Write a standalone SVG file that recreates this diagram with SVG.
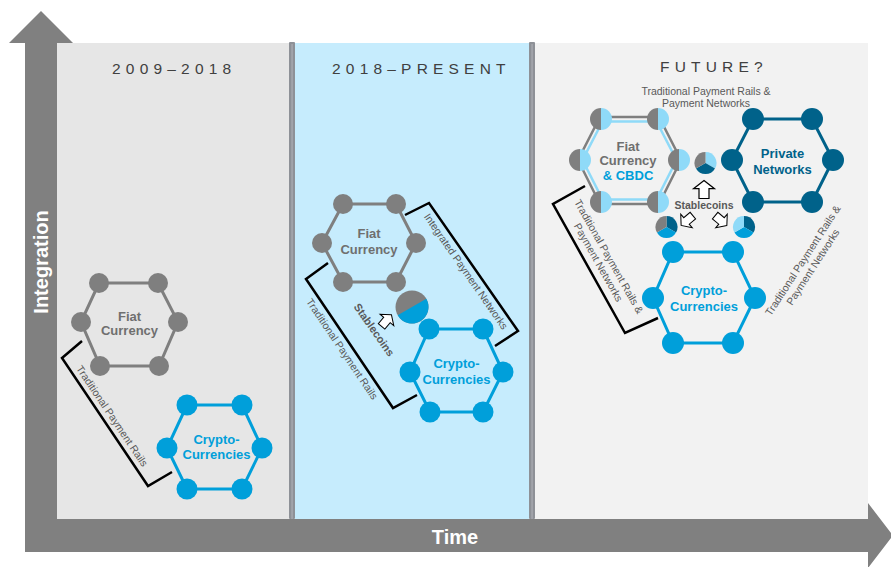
<svg xmlns="http://www.w3.org/2000/svg" width="891" height="567" viewBox="0 0 891 567">
<defs>
<style>
text{font-family:"Liberation Sans",Arial,sans-serif}
.title{font-size:15.5px;fill:#404040;letter-spacing:5.2px}
.axis{font-size:20px;font-weight:bold;fill:#fff}
.lbl{font-size:13px;font-weight:bold;text-anchor:middle}
.small{font-size:10.5px;fill:#595959;text-anchor:middle}
.stab{font-size:11px;font-weight:bold;fill:#595959;text-anchor:middle}
.hexg{fill:none;stroke:#7f7f7f;stroke-width:3}
.hexb{fill:none;stroke:#009fda;stroke-width:3}
.hext{fill:none;stroke:#00628a;stroke-width:3}
.ng{fill:#7f7f7f}.nb{fill:#009fda}.nt{fill:#00628a}.nl{fill:#8fdaf8}
.brk{fill:none;stroke:#000;stroke-width:2.5;stroke-linejoin:miter}
.arr{fill:#fff;stroke:#000;stroke-width:1.2;stroke-linejoin:miter}
</style>
<path id="barrow" d="M0,-9 L10.5,-0.8 L5,-0.8 L5,9 L-5,9 L-5,-0.8 L-10.5,-0.8 Z"/>
</defs>

<g id="panels">
<rect x="57" y="43" width="232" height="476" fill="#e6e6e6"/>
<rect x="295" y="43" width="234" height="476" fill="#c6ecfd"/>
<rect x="535" y="43" width="333" height="476" fill="#f2f2f2"/>
<rect x="289" y="42" width="6" height="477" rx="1" fill="#8e9197"/>
<rect x="291.3" y="44" width="1.5" height="475" fill="#a6a9ae"/>
<rect x="529" y="42" width="6" height="477" rx="1" fill="#8e9197"/>
<rect x="531.3" y="44" width="1.5" height="475" fill="#a6a9ae"/>
<text class="title" x="112" y="74">2009–2018</text>
<text class="title" x="332" y="74">2018–PRESENT</text>
<text class="title" x="660" y="72">FUTURE?</text>
</g>

<g id="axes">
<polygon points="9,43 41,11 73,43 57,43 57,519 868,519 868,503 893,535.5 868,568 868,552 25,552 25,43" fill="#808080"/>
<text class="axis" transform="translate(48,262) rotate(-90)" text-anchor="middle">Integration</text>
<text class="axis" x="455" y="544" text-anchor="middle">Time</text>
</g>

<g id="connectors">
<polyline class="brk" points="82,341 62,358 148,486 172,472"/>
<polyline class="brk" points="328,263 306,279 393,408 417,395"/>
<polyline class="brk" points="405,215 429,203 518,331 495,346"/>
<polyline class="brk" points="585,186 553,204 625,333 658,318"/>
<text class="small" transform="translate(109,418) rotate(56)">Traditional Payment Rails</text>
<text class="small" transform="translate(339,351) rotate(56)">Traditional Payment Rails</text>
<text class="small" transform="translate(463,273.5) rotate(55.2)">Integrated Payment Networks</text>
<text class="small" x="706" y="94.5">Traditional Payment Rails &amp;</text>
<text class="small" x="706" y="107">Payment Networks</text>
<text class="small" transform="translate(603.5,259.5) rotate(60.5)"><tspan x="0" y="-2.5">Traditional Payment Rails &amp;</tspan><tspan x="0" y="9.5">Payment Networks</tspan></text>
<text class="small" transform="translate(808,263.8) rotate(-57)"><tspan x="0" y="-2.5">Traditional Payment Rails &amp;</tspan><tspan x="0" y="9.5">Payment Networks</tspan></text>
</g>

<g id="fiat-2009">
<polygon class="hexg" points="99,283 158,283 178,322 159,366 100,366 81,322"/>
<g class="ng">
<circle cx="99" cy="283" r="10"/><circle cx="158" cy="283" r="10"/><circle cx="178" cy="322" r="10"/>
<circle cx="159" cy="366" r="10"/><circle cx="100" cy="366" r="10"/><circle cx="81" cy="322" r="10"/>
</g>
<text class="lbl" fill="#6f6f6f" x="129.5" y="321">Fiat</text>
<text class="lbl" fill="#6f6f6f" x="129.5" y="335">Currency</text>
</g>

<g id="crypto-2009">
<polygon class="hexb" points="187,405 242,405 262,448 242,489 187,489 167,448"/>
<g class="nb">
<circle cx="187" cy="405" r="10.5"/><circle cx="242" cy="405" r="10.5"/><circle cx="262" cy="448" r="10.5"/>
<circle cx="242" cy="489" r="10.5"/><circle cx="187" cy="489" r="10.5"/><circle cx="167" cy="448" r="10.5"/>
</g>
<text class="lbl" fill="#009fda" x="216.5" y="444">Crypto-</text>
<text class="lbl" fill="#009fda" x="216.5" y="459">Currencies</text>
</g>

<g id="fiat-2018">
<polygon class="hexg" points="343,204 396,204 416,243 396,282 343,282 322,243"/>
<g class="ng">
<circle cx="343" cy="204" r="10"/><circle cx="396" cy="204" r="10"/><circle cx="416" cy="243" r="10"/>
<circle cx="396" cy="282" r="10"/><circle cx="343" cy="282" r="10"/><circle cx="322" cy="243" r="10"/>
</g>
<text class="lbl" fill="#6f6f6f" x="369" y="238">Fiat</text>
<text class="lbl" fill="#6f6f6f" x="369" y="254">Currency</text>
</g>

<g id="crypto-2018">
<polygon class="hexb" points="429,329 483,329 503,372 483,412 430,412 410,372"/>
<g class="nb">
<circle cx="429" cy="329" r="10.5"/><circle cx="483" cy="329" r="10.5"/><circle cx="503" cy="372" r="10.5"/>
<circle cx="483" cy="412" r="10.5"/><circle cx="430" cy="412" r="10.5"/><circle cx="410" cy="372" r="10.5"/>
</g>
<text class="lbl" fill="#009fda" x="456.5" y="368">Crypto-</text>
<text class="lbl" fill="#009fda" x="456.5" y="384">Currencies</text>
</g>

<g id="stablecoin-2018">
<circle cx="412" cy="307" r="16.5" fill="#7f7f7f"/>
<path d="M397.7,315.3 A16.5,16.5 0 0 0 426.3,298.7 Z" fill="#009fda"/>
<use href="#barrow" class="arr" transform="translate(386.5,320.5) rotate(40) scale(0.85)"/>
<text class="stab" transform="translate(371,332) rotate(55)">Stablecoins</text>
</g>

<g id="fiat-cbdc">
<polygon points="600,117 659,117 681,160 659,204 600,204 578,160" fill="none" stroke="#7f7f7f" stroke-width="2.5"/>
<polygon points="602.5,121.5 656.5,121.5 676.5,160 656.5,199.5 602.5,199.5 582.5,160" fill="none" stroke="#8fdaf8" stroke-width="2.5"/>
<g>
<path class="ng" d="M601,108 A11,11 0 0 0 601,130 Z"/><path class="nl" d="M601,108 A11,11 0 0 1 601,130 Z"/>
<path class="ng" d="M658,108 A11,11 0 0 0 658,130 Z"/><path class="nl" d="M658,108 A11,11 0 0 1 658,130 Z"/>
<path class="ng" d="M679,149 A11,11 0 0 0 679,171 Z"/><path class="nl" d="M679,149 A11,11 0 0 1 679,171 Z"/>
<path class="ng" d="M658,191 A11,11 0 0 0 658,213 Z"/><path class="nl" d="M658,191 A11,11 0 0 1 658,213 Z"/>
<path class="ng" d="M601,191 A11,11 0 0 0 601,213 Z"/><path class="nl" d="M601,191 A11,11 0 0 1 601,213 Z"/>
<path class="ng" d="M580,149 A11,11 0 0 0 580,171 Z"/><path class="nl" d="M580,149 A11,11 0 0 1 580,171 Z"/>
</g>
<text class="lbl" fill="#6f6f6f" x="628" y="150.5">Fiat</text>
<text class="lbl" fill="#6f6f6f" x="628" y="165">Currency</text>
<text class="lbl" fill="#009fda" x="628" y="180">&amp; CBDC</text>
</g>

<g id="private-networks">
<polygon class="hext" points="753,119 812,119 833,160 812,202 753,202 732,160"/>
<g class="nt">
<circle cx="753" cy="119" r="11"/><circle cx="812" cy="119" r="11"/><circle cx="833" cy="160" r="11"/>
<circle cx="812" cy="202" r="11"/><circle cx="753" cy="202" r="11"/><circle cx="732" cy="160" r="11"/>
</g>
<text class="lbl" fill="#00628a" x="782.5" y="158">Private</text>
<text class="lbl" fill="#00628a" x="782.5" y="174">Networks</text>
</g>

<g id="crypto-future">
<polygon class="hexb" points="673,252 733,252 755,298 733,343 673,343 653,298"/>
<g class="nb">
<circle cx="673" cy="252" r="11"/><circle cx="733" cy="252" r="11"/><circle cx="755" cy="298" r="11"/>
<circle cx="733" cy="343" r="11"/><circle cx="673" cy="343" r="11"/><circle cx="653" cy="298" r="11"/>
</g>
<text class="lbl" fill="#009fda" x="704" y="294.5">Crypto-</text>
<text class="lbl" fill="#009fda" x="704" y="311">Currencies</text>
</g>

<g id="stablecoins-future">
<path class="nl" d="M705.5,163 L705.5,152 A11,11 0 0 1 715.03,168.5 Z"/>
<path class="nt" d="M705.5,163 L715.03,168.5 A11,11 0 0 1 695.97,168.5 Z"/>
<path class="ng" d="M705.5,163 L695.97,168.5 A11,11 0 0 1 705.5,152 Z"/>
<path class="nt" d="M666.5,227 L666.5,216 A11,11 0 0 1 676.03,232.5 Z"/>
<path class="nb" d="M666.5,227 L676.03,232.5 A11,11 0 0 1 656.97,232.5 Z"/>
<path class="ng" d="M666.5,227 L656.97,232.5 A11,11 0 0 1 666.5,216 Z"/>
<path class="nt" d="M744,227 L744,216 A11,11 0 0 1 753.53,232.5 Z"/>
<path class="nb" d="M744,227 L753.53,232.5 A11,11 0 0 1 734.47,232.5 Z"/>
<path class="nl" d="M744,227 L734.47,232.5 A11,11 0 0 1 744,216 Z"/>
<use href="#barrow" class="arr" transform="translate(704,189.5)"/>
<use href="#barrow" class="arr" transform="translate(687,220.5) rotate(-130) scale(0.85)"/>
<use href="#barrow" class="arr" transform="translate(721,220.5) rotate(130) scale(0.85)"/>
<text class="stab" style="font-size:10.5px" x="704" y="209">Stablecoins</text>
</g>
</svg>
